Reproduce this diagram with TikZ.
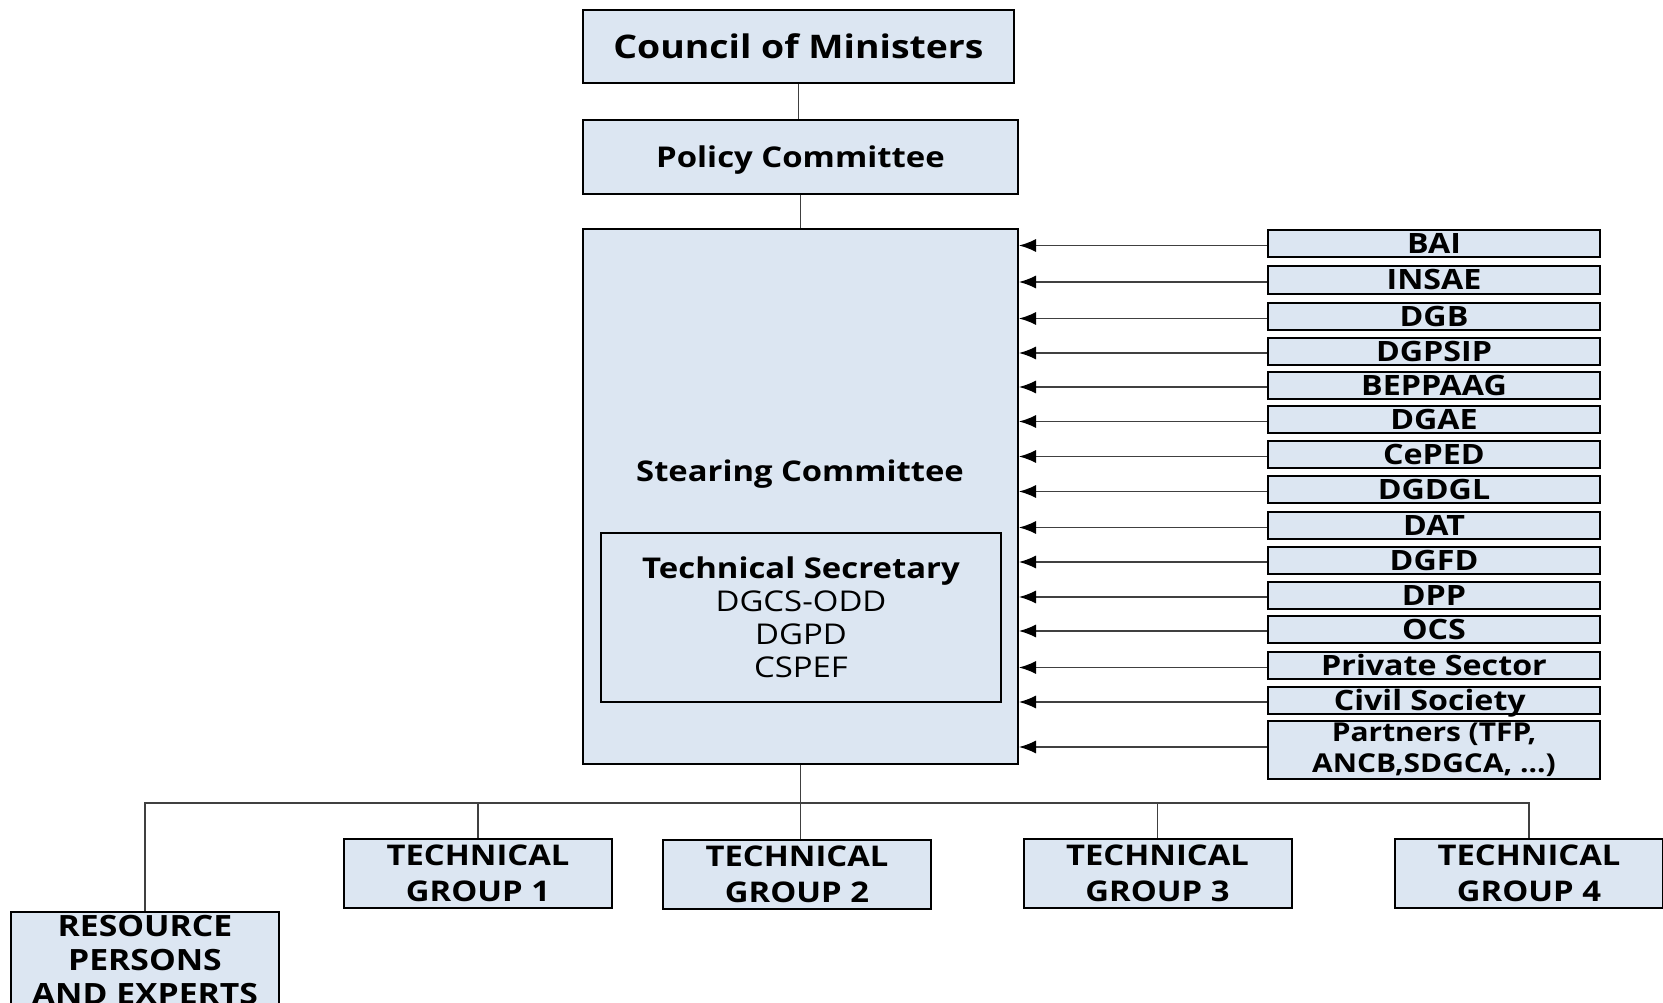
\documentclass[tikz,border=0pt]{standalone}
\usepackage{fontspec}
\setmainfont{Open Sans}[FakeStretch=1.15]
\usetikzlibrary{arrows.meta}
\definecolor{boxblue}{HTML}{DCE6F2}
\definecolor{linegray}{HTML}{404040}

\tikzset{
  orgbox/.style={draw=black, fill=boxblue, line width=2pt, inner sep=0pt, align=center},
  srcbox/.style={orgbox, minimum width=332pt, minimum height=27pt, font=\fontsize{28}{31}\selectfont\bfseries},
  grpbox/.style={orgbox, minimum width=268pt, minimum height=69pt, font=\fontsize{28.5}{36}\selectfont\bfseries},
  link/.style={draw=linegray, line width=1.3pt},
  feed/.style={link, -{Latex[length=17pt,width=13pt,black]}},
}

\begin{document}
\begin{tikzpicture}[x=1pt,y=-1pt]
  \clip (0,0) rectangle (1663,1003);

  % top of the hierarchy
  \node[orgbox, minimum width=431pt, minimum height=73pt, font=\fontsize{32.5}{38}\selectfont\bfseries] (council) at (798.5,46.5) {Council of Ministers};
  \node[orgbox, minimum width=435pt, minimum height=74pt, text depth=0pt, font=\fontsize{28.6}{34}\selectfont\bfseries] (policy) at (800.5,157) {Policy Committee};
  \node[orgbox, minimum width=435pt, minimum height=535pt] (stear) at (800.5,496.5) {};
  \node[font=\fontsize{28.5}{34}\selectfont\bfseries] (stearlbl) at (800,474) {Stearing Committee};
  \node[orgbox, minimum width=400pt, minimum height=169pt, font=\fontsize{28.6}{33}\selectfont] (techsec) at (801,617.5) {\textbf{Technical Secretary}\\DGCS-ODD\\DGPD\\CSPEF};

  \draw[link] (council.south) -- (council.south |- policy.north);
  \draw[link] (policy.south) -- (policy.south |- stear.north);

  % bodies feeding the steering committee
  \foreach \name/\ypos/\txt in {
    bai/243.5/BAI, insae/280/INSAE, dgb/316.5/DGB, dgpsip/351/DGPSIP,
    beppaag/385/BEPPAAG, dgae/419.5/DGAE, ceped/454.5/CePED, dgdgl/489.5/DGDGL,
    dat/525.5/DAT, dgfd/560/DGFD, dpp/595/DPP, ocs/629/OCS,
    private/665.5/Private Sector, civil/700/Civil Society
  }
  {
    \node[srcbox, text height=20pt, text depth=0pt] (\name) at (1434,\ypos) {\txt};
    \draw[feed] ([yshift=-2pt]\name.west) -- ([yshift=-2pt]\name.west -| stear.east);
  }
  \node[srcbox, font=\fontsize{26}{31}\selectfont\bfseries, minimum height=58pt] (partners) at (1434,750) {Partners (TFP,\\ANCB,SDGCA, ...)};
  \draw[feed] ([yshift=3pt]partners.west) -- ([yshift=3pt]partners.west -| stear.east);

  % technical groups
  \node[grpbox] (tg1) at (478,873.5) {TECHNICAL\\GROUP 1};
  \node[grpbox] (tg2) at (797,874) {TECHNICAL\\GROUP 2};
  \node[grpbox] (tg3) at (1157.5,873.5) {TECHNICAL\\GROUP 3};
  \node[grpbox] (tg4) at (1529,873) {TECHNICAL\\GROUP 4};
  \node[grpbox, font=\fontsize{29.3}{34}\selectfont\bfseries, minimum height=96pt] (res) at (145,960) {RESOURCE\\PERSONS\\AND EXPERTS};

  \coordinate (bus) at (799,803);
  \draw[link] (stear.south) -- (stear.south |- tg2.north);
  \draw[link] (res.north) -- (res.north |- bus) -- (tg4.north |- bus) -- (tg4.north);
  \draw[link] (tg1.north) -- (tg1.north |- bus);
  \draw[link] (tg3.north) -- (tg3.north |- bus);
\end{tikzpicture}
\end{document}
